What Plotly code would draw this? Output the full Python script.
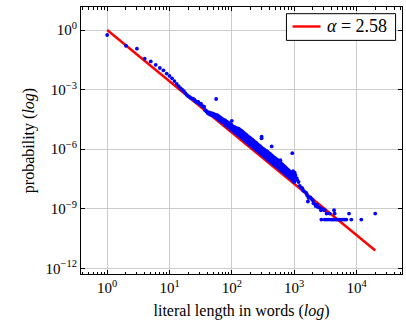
import plotly.graph_objects as go

# Literal-length distribution: length in words and log10 of its probability
head_len = [1, 2, 3, 4, 5, 6, 7, 8, 9, 10, 11, 12, 13, 14, 15, 16, 17, 18, 19, 20,
            21, 22, 23, 24, 25, 26, 27, 28, 29, 30, 31, 32, 33, 34, 35, 36, 37, 38, 39, 40,
            42, 44, 46, 48, 50, 52, 54, 56, 58, 60, 62, 64, 66, 68, 70, 72, 75, 78, 81, 84,
            87, 90, 94, 98, 50, 56, 63, 70, 78, 87, 95, 56, 100,
            41, 43, 45, 47, 49, 51, 53, 55, 57, 59, 61, 65, 67, 73, 76, 80, 83, 86, 89, 92, 96]
head_logp = [-0.25, -0.79, -0.94, -1.44, -1.58, -1.75, -1.91, -2.03, -2.19, -2.31,
             -2.43, -2.57, -2.71, -2.82, -2.92, -3.00, -3.07, -3.18, -3.26, -3.33,
             -3.37, -3.42, -3.45, -3.47, -3.50, -3.58, -3.60, -3.65, -3.62, -3.70,
             -3.73, -3.71, -3.80, -3.84, -3.85, -3.86, -4.02, -4.04, -4.10, -4.10,
             -4.14, -4.16, -4.18, -4.20, -4.21, -4.24, -4.26, -4.28, -4.29, -4.31,
             -4.36, -4.38, -4.42, -4.45, -4.48, -4.50, -4.53, -4.55, -4.60, -4.63,
             -4.66, -4.69, -4.72, -4.76, -4.30, -4.40, -4.55, -4.65, -4.78, -4.88,
             -4.98, -3.47, -4.57,
             -4.18, -4.22, -4.25, -4.27, -4.30, -4.33, -4.36, -4.38, -4.41, -4.45,
             -4.47, -4.52, -4.55, -4.62, -4.65, -4.70, -4.74, -4.78, -4.82, -4.85, -4.90]

body_len = [100, 105, 110, 115, 120, 125, 130, 136, 142, 148, 155, 162, 170, 178, 186,
            195, 204, 214, 224, 235, 246, 258, 270, 283, 296, 310, 325, 340, 356, 373,
            390, 408, 427, 447, 468, 490, 513, 537, 562, 588, 616, 645, 675, 707, 740,
            775, 811, 849, 889, 931, 975, 1000]
body_logp_low = [-5.03, -4.98, -5.12, -5.06, -5.20, -5.12, -5.30, -5.22, -5.40, -5.33,
                 -5.50, -5.42, -5.60, -5.54, -5.72, -5.64, -5.82, -5.74, -5.92, -5.85,
                 -6.02, -5.95, -6.13, -6.06, -6.24, -6.16, -6.34, -6.26, -6.44, -6.37,
                 -6.55, -6.47, -6.65, -6.57, -6.75, -6.67, -6.85, -6.77, -6.95, -6.88,
                 -7.06, -6.98, -7.16, -7.08, -7.26, -7.18, -7.36, -7.28, -7.46, -7.38,
                 -7.57, -7.50]
body_logp_mid = [-4.92, -5.08, -5.00, -5.18, -5.08, -5.26, -5.14, -5.35, -5.24, -5.46,
                 -5.34, -5.56, -5.43, -5.66, -5.55, -5.78, -5.65, -5.88, -5.75, -5.98,
                 -5.85, -6.08, -5.96, -6.18, -6.07, -6.29, -6.17, -6.40, -6.26, -6.50,
                 -6.36, -6.60, -6.46, -6.70, -6.57, -6.80, -6.67, -6.90, -6.77, -7.00,
                 -6.88, -7.11, -6.99, -7.22, -7.10, -7.32, -7.21, -7.42, -7.32, -7.53,
                 -7.45, -7.60]
body_logp_high = [-4.80, -4.90, -4.88, -4.92, -4.95, -4.95, -4.98, -5.03, -5.08, -5.10,
                  -5.18, -5.22, -5.27, -5.33, -5.38, -5.42, -5.48, -5.52, -5.58, -5.63,
                  -5.68, -5.74, -5.80, -5.84, -5.90, -5.96, -6.00, -6.05, -6.08, -6.12,
                  -6.18, -6.22, -6.28, -6.33, -6.40, -6.44, -6.48, -6.54, -6.58, -6.63,
                  -6.70, -6.76, -6.82, -6.88, -6.94, -7.00, -7.05, -7.12, -7.18, -7.25,
                  -7.32, -7.40]

# Isolated lengths above the main band
spike_len = [300, 300, 436, 600, 933, 1020]
spike_logp = [-5.36, -5.45, -5.86, -6.55, -6.20, -7.18]

tail_len = [960, 1000, 1050, 1100, 1122, 1175, 1230, 1288, 1349, 1380, 1445, 1549,
            1585, 1622, 1660, 1700, 1820, 1905, 1995, 2040, 2188, 2210, 2344, 2399,
            2570, 2690, 2754, 2951, 3090, 3311, 3715, 4365, 4467, 7586, 19953]
tail_logp = [-7.10, -7.65, -7.30, -7.45, -7.55, -7.65, -7.84, -7.93, -7.96, -8.05,
             -8.12, -8.18, -8.25, -8.33, -8.63, -8.45, -8.42, -8.50, -8.58, -8.72,
             -8.78, -8.86, -8.80, -8.91, -8.94, -9.07, -9.00, -9.04, -9.07, -9.24,
             -9.24, -9.07, -9.24, -9.24, -9.24]

# Lengths seen only once (lowest probability level)
single_len = [2729, 3090, 3357, 3614, 3945, 4188, 4457, 4742, 5035, 5346, 5702, 6026,
              6427, 6855, 8260, 11940]
single_logp = -9.54

# Power-law fit p(x) = x^(-alpha)
alpha = 2.58
fit_len = [1, 20000]

x_ticks = [1, 10, 100, 1000, 10000]
x_ticktext = ["10<sup>0</sup>", "10<sup>1</sup>", "10<sup>2</sup>", "10<sup>3</sup>", "10<sup>4</sup>"]
y_ticks = [1, 1e-3, 1e-6, 1e-9, 1e-12]
y_ticktext = ["10<sup>0</sup>", "10<sup>−3</sup>", "10<sup>−6</sup>", "10<sup>−9</sup>", "10<sup>−12</sup>"]

pts_len = head_len + body_len * 3 + spike_len + tail_len + single_len
pts_logp = (head_logp + body_logp_low + body_logp_mid + body_logp_high + spike_logp
            + tail_logp + [single_logp] * len(single_len))
pts_p = [10 ** v for v in pts_logp]
fit_p = [x ** (-alpha) for x in fit_len]

FONT = "Liberation Serif"
BLUE = "#0000ff"
RED = "#ff0000"

fig = go.Figure()
fig.add_trace(go.Scatter(x=fit_len, y=fit_p, mode="lines",
                         line=dict(color=RED, width=2.4), showlegend=False))
fig.add_trace(go.Scatter(x=pts_len, y=pts_p, mode="markers",
                         marker=dict(color=BLUE, size=3.8, line=dict(width=0)),
                         showlegend=False))

# Legend box
lx0, lx1, ly0, ly1 = 0.640, 0.980, 0.875, 0.975
fig.add_shape(type="rect", xref="paper", yref="paper", x0=lx0, x1=lx1, y0=ly0, y1=ly1,
              line=dict(color="black", width=1), fillcolor="white", layer="above")
fig.add_shape(type="line", xref="paper", yref="paper", x0=0.659, x1=0.746, y0=0.927, y1=0.927,
              line=dict(color=RED, width=2.4), layer="above")
fig.add_annotation(xref="paper", yref="paper", x=0.760, y=0.927, xanchor="left", yanchor="middle",
                   text=f"<i>α</i> = {alpha}", showarrow=False,
                   font=dict(family=FONT, size=18, color="black"))

minor_x = [m * 10 ** d for d in range(-1, 5) for m in range(2, 10)]

fig.update_xaxes(type="log", range=[-0.42, 4.73], tickmode="array", tickvals=x_ticks,
                 ticktext=x_ticktext, ticks="inside", ticklen=4, tickcolor="black",
                 showline=True, linecolor="black", linewidth=1, mirror="allticks",
                 showgrid=True, gridcolor="#cccccc", gridwidth=1, zeroline=False,
                 minor=dict(tickmode="array", tickvals=minor_x, ticks="inside", ticklen=2.5,
                            tickcolor="black", showgrid=False),
                 tickfont=dict(family=FONT, size=15, color="black"),
                 title=dict(text="literal length in words (<i>log</i>)", standoff=9,
                            font=dict(family=FONT, size=16, color="black")))
fig.update_yaxes(type="log", range=[-12.28, 1.16], tickmode="array", tickvals=y_ticks,
                 ticktext=y_ticktext, ticks="inside", ticklen=4, tickcolor="black",
                 showline=True, linecolor="black", linewidth=1, mirror="allticks",
                 showgrid=True, gridcolor="#cccccc", gridwidth=1, zeroline=False,
                 tickfont=dict(family=FONT, size=15, color="black"),
                 title=dict(text="probability (<i>log</i>)", standoff=6,
                            font=dict(family=FONT, size=16, color="black")))

fig.update_layout(width=406, height=327, margin=dict(l=81, r=4, t=7, b=53),
                  paper_bgcolor="white", plot_bgcolor="white", showlegend=False)

fig.write_html("out.html")
